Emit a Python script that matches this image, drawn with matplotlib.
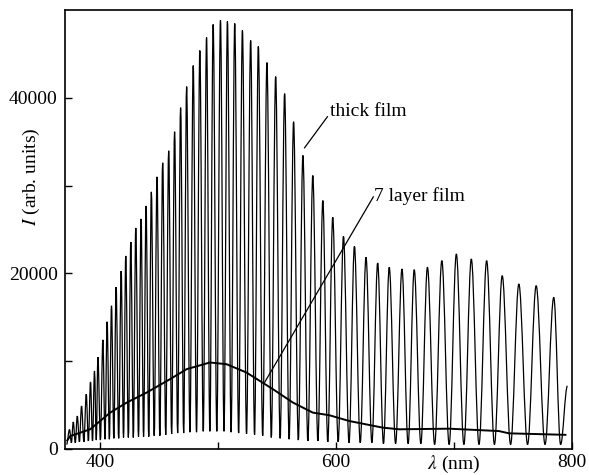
import matplotlib
matplotlib.use("Agg")
import matplotlib.pyplot as plt
from matplotlib.path import Path
from matplotlib.patches import PathPatch
import numpy as np

plt.rcParams['font.family'] = ['Liberation Serif', 'DejaVu Serif']
plt.rcParams['mathtext.fontset'] = 'stix'

# thick film: fringe maxima (nm, counts)
peak_wl = [374.0, 377.2, 380.6, 384.2, 388.2, 391.8, 395.2, 398.1, 402.3, 405.9,
           409.6, 413.5, 417.8, 421.7, 426.0, 430.2, 434.7, 438.9, 443.4, 448.2,
           453.0, 458.1, 463.1, 468.2, 473.3, 478.9, 484.5, 490.2, 495.8, 502.0,
           507.9, 514.1, 520.6, 527.6, 534.1, 541.4, 548.8, 556.4, 564.0, 571.9,
           580.3, 588.8, 597.2, 606.3, 615.6, 625.4, 635.3, 645.1, 655.9, 666.3,
           677.5, 689.7, 702.0, 714.7, 727.7, 740.9, 755.0, 769.7, 784.6, 796.2]
peak_I = [2200, 3060, 3740, 4890, 6220, 7630, 8880, 10450, 12420, 14480,
          16300, 18440, 20260, 21980, 23570, 25170, 26200, 27680, 29280, 30990,
          32590, 33960, 36130, 38870, 41270, 43670, 45380, 46860, 48350, 48800,
          48690, 48460, 47660, 46520, 45840, 44010, 42410, 40470, 37270, 33430,
          31140, 28290, 26390, 24220, 23080, 21830, 21180, 20690, 20490, 20410,
          20690, 21440, 22200, 21630, 21440, 19730, 18780, 18590, 17260, 7170]

# thick film: fringe minima
trough_wl = [371.5,
             375.6, 378.9, 382.4, 386.2, 390.0, 393.5, 396.7, 400.2, 404.1, 407.8,
             411.6, 415.7, 419.8, 423.9, 428.1, 432.5, 436.8, 441.2, 445.8, 450.6,
             455.6, 460.6, 465.7, 470.8, 476.1, 481.7, 487.4, 493.0, 498.9, 505.0,
             511.0, 517.4, 524.1, 530.9, 537.8, 545.1, 552.6, 560.2, 568.0, 576.1,
             584.6, 593.0, 601.8, 611.0, 620.5, 630.4, 640.2, 650.5, 661.1, 671.9,
             683.6, 695.9, 708.4, 721.2, 734.3, 748.0, 762.4, 777.2,
             790.4]
trough_I = [500,
            700, 700, 800, 800, 900, 900, 1000, 1000, 1100, 1100,
            1200, 1200, 1300, 1300, 1300, 1400, 1400, 1400, 1500, 1500,
            1600, 1700, 1800, 1800, 1900, 1900, 2000, 2000, 2000, 2000,
            1900, 1800, 1700, 1600, 1500, 1300, 1200, 1100, 1000, 900,
            900, 800, 800, 700, 700, 700, 600, 600, 600, 600,
            500, 500, 500, 500, 500, 500, 500, 500,
            500]

# 7 layer film
layer_wl = [372.1, 374.6, 391.5, 408.5, 422.6, 439.5, 459.2, 473.3, 493.0, 507.1,
            524.0, 546.5, 563.4, 580.3, 594.4, 611.3, 639.5, 653.6, 695.9, 738.1,
            746.6, 794.5]
layer_I = [970, 1460, 2230, 4130, 5280, 6420, 7940, 9080, 9840, 9650,
           8700, 6800, 5280, 4130, 3830, 3170, 2420, 2230, 2300, 2030,
           1770, 1600]

wl = np.concatenate([peak_wl, trough_wl])
I = np.concatenate([peak_I, trough_I])
order = np.argsort(wl)
wl, I = wl[order], I[order]

# smooth fringe path: cubic segments with flat tangents at the extrema
verts = [(wl[0], I[0])]
codes = [Path.MOVETO]
for i in range(len(wl) - 1):
    d = wl[i + 1] - wl[i]
    verts += [(wl[i] + 0.36 * d, I[i]), (wl[i + 1] - 0.36 * d, I[i + 1]), (wl[i + 1], I[i + 1])]
    codes += [Path.CURVE4] * 3

fig = plt.figure(figsize=(5.89, 4.75), dpi=100)
ax = fig.add_axes([0.110, 0.055, 0.861, 0.924])

ax.add_patch(PathPatch(Path(verts, codes), fill=False, edgecolor='black', lw=0.9))
ax.plot(layer_wl, layer_I, color='black', lw=1.4)

# labels with pointer lines
ax.plot([573.3, 592.7], [34300, 37840], color='black', lw=0.9)
ax.text(595, 38400, 'thick film', fontsize=14, ha='left', va='center')
ax.plot([539.5, 631.6], [7590, 28710], color='black', lw=0.9)
ax.text(632.5, 28800, '7 layer film', fontsize=14, ha='left', va='center')

ax.set_xlim(370, 800)
ax.set_ylim(0, 50000)
ax.set_xticks([400, 500, 600, 700, 800])
ax.set_xticklabels(['400', '', '600', '', '800'])
ax.set_yticks([0, 10000, 20000, 30000, 40000])
ax.set_yticklabels(['0', '', '20000', '', '40000'])
ax.tick_params(direction='in', length=5, width=1, labelsize=14, pad=5)
ax.tick_params(axis='x', pad=4)
for s in ax.spines.values():
    s.set_linewidth(1.2)

ax.set_ylabel(r'$I$ (arb. units)', fontsize=14)
ax.yaxis.set_label_coords(-0.045, 0.62)
ax.set_xlabel(r'$\lambda$ (nm)', fontsize=14)
ax.xaxis.set_label_coords(0.767, -0.012)
ax.xaxis.label.set_va('top')

fig.savefig('out.png', dpi=100)
